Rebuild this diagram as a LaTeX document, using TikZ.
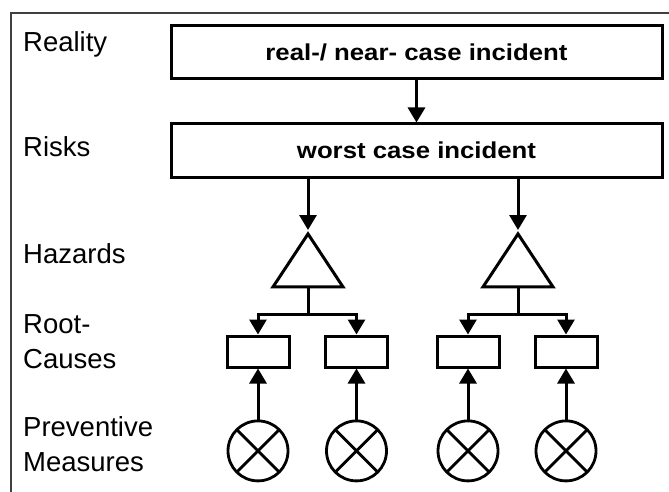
\documentclass[tikz,border=0pt]{standalone}
\usepackage{fontspec}
\setmainfont{Liberation Sans}
\newfontfamily\boxfont[FakeStretch=1.12]{Liberation Sans}
\usetikzlibrary{arrows.meta,positioning,shapes.geometric}

\begin{document}
\begin{tikzpicture}[
    x=1pt, y=-1pt,
    node distance=45pt and 40pt,
    level/.style={
      anchor=base west,
      align=left,
      font=\fontsize{27.5}{35}\selectfont,
      inner sep=0pt
    },
    incident/.style={
      draw,
      line width=3pt,
      minimum width=491pt,
      minimum height=53pt,
      inner sep=0pt,
      font=\boxfont\bfseries\fontsize{23}{27}\selectfont
    },
    hazard/.style={
      draw,
      line width=3pt,
      isosceles triangle,
      isosceles triangle stretches,
      shape border rotate=90,
      minimum width=70pt,
      minimum height=53pt,
      inner sep=0pt
    },
    cause/.style={
      draw,
      line width=3pt,
      minimum width=62pt,
      minimum height=31pt,
      inner sep=0pt
    },
    measure/.style={
      circle,
      draw,
      line width=2.8pt,
      minimum size=60pt,
      inner sep=0pt,
      path picture={
        \draw[line width=2.8pt]
          (path picture bounding box.north west) -- (path picture bounding box.south east)
          (path picture bounding box.north east) -- (path picture bounding box.south west);
      }
    },
    arrow/.style={-{Triangle[length=15pt,width=17pt]}, line width=3pt}
  ]
    \useasboundingbox (0,0) rectangle (669,492);
    \draw[black!75, line width=1.8pt] (11,492) -- (11,13) -- (669,13);

    % levels on the left
    \node[level] (reality) at (23,52) {Reality};
    \node[level] (risks) at (23,157) {Risks};
    \node[level] (hazards) at (23,263) {Hazards};
    \node[level] (roots) at (23,368) {Root-\\Causes};
    \node[level] (prevent) at (23,471) {Preventive\\Measures};

    \node[incident] (real) at (416.5,52) {real-/ near- case incident};
    \node[incident] (worst) at (416.5,150.5) {worst case incident};

    \node[hazard, anchor=apex] (haz1) at (308,230) {};
    \node[hazard, anchor=apex] (haz2) at (518,230) {};

    \node[cause] (cause1) at (258,351.5) {};
    \node[cause] (cause2) at (356.5,351.5) {};
    \node[cause] (cause3) at (468,351.5) {};
    \node[cause] (cause4) at (566,351.5) {};

    \node[measure, below=51pt of cause1] (measure1) {};
    \node[measure, below=51pt of cause2] (measure2) {};
    \node[measure, below=51pt of cause3] (measure3) {};
    \node[measure, below=51pt of cause4] (measure4) {};

    \draw[arrow] (real) -- (worst);
    \draw[arrow] (worst.south -| haz1.apex) -- (haz1.apex);
    \draw[arrow] (worst.south -| haz2.apex) -- (haz2.apex);

    \draw[arrow] (haz1.lower side) -- ++(0,26) -| (cause1);
    \draw[arrow] (haz1.lower side) -- ++(0,26) -| (cause2);
    \draw[arrow] (haz2.lower side) -- ++(0,26) -| (cause3);
    \draw[arrow] (haz2.lower side) -- ++(0,26) -| (cause4);

    \draw[arrow] (measure1) -- (cause1);
    \draw[arrow] (measure2) -- (cause2);
    \draw[arrow] (measure3) -- (cause3);
    \draw[arrow] (measure4) -- (cause4);
  \end{tikzpicture}
\end{document}
